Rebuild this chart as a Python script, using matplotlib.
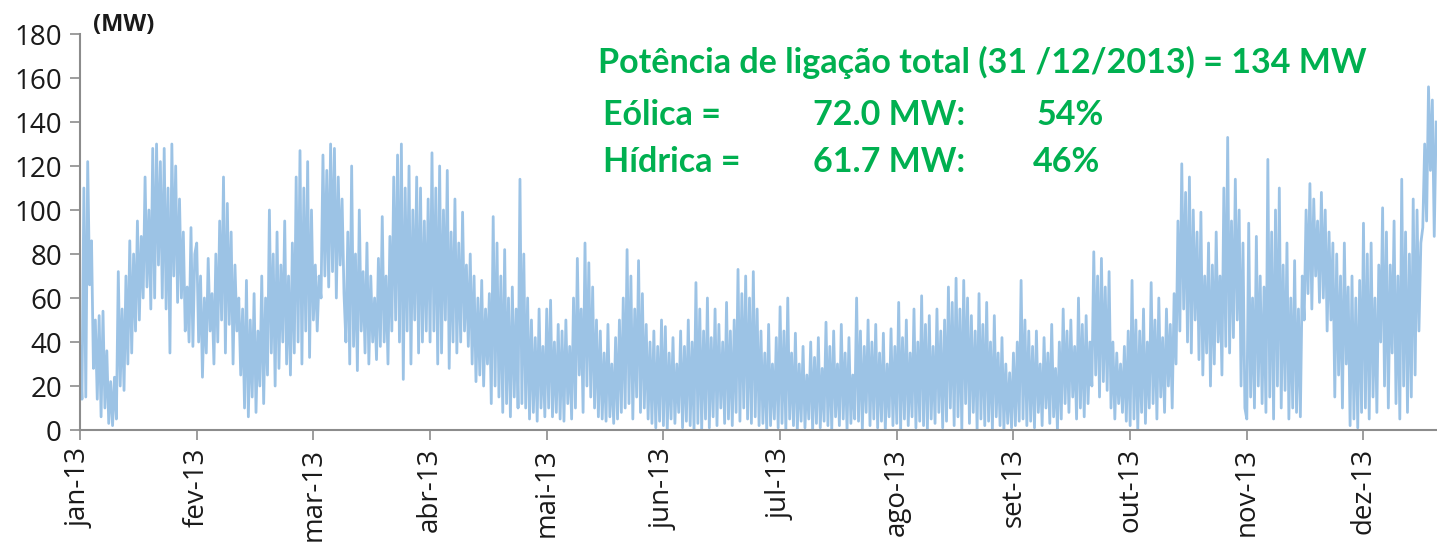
"""
Potência horária injetada (eólica + hídrica), ano 2013.
Série lida a intervalos de ~12 h, agrupada por mês (61 amostras por mês).
"""

import matplotlib
matplotlib.use("Agg")
import matplotlib.pyplot as plt
import numpy as np

# ── dados (MW) ──
jan = [38, 14, 110, 15, 122, 66, 86, 28, 50, 14, 52, 6, 54, 10, 36, 3, 22, 2, 24, 5,
       72, 20, 55, 18, 70, 30, 86, 35, 80, 45, 95, 50, 88, 60, 115, 65, 100, 55, 128, 60,
       130, 75, 122, 60, 128, 55, 110, 35, 130, 70, 120, 58, 105, 60, 90, 45, 65, 40, 92, 38,
       80]
fev = [85, 40, 70, 24, 60, 35, 78, 45, 62, 30, 80, 40, 95, 50, 115, 35, 103, 48, 90, 30,
       75, 45, 60, 25, 55, 10, 68, 6, 50, 15, 62, 8, 45, 20, 70, 12, 60, 25, 100, 35,
       80, 20, 90, 28, 75, 40, 95, 30, 70, 25, 85, 35, 115, 40, 127, 30, 110, 45, 122, 33,
       100]
mar = [50, 75, 45, 70, 60, 125, 70, 118, 65, 130, 72, 128, 60, 115, 75, 105, 62, 40, 90, 30,
       120, 38, 80, 27, 100, 45, 72, 35, 85, 30, 70, 40, 60, 32, 78, 38, 97, 40, 70, 30,
       88, 45, 115, 50, 125, 40, 130, 23, 110, 45, 120, 30, 100, 50, 115, 35, 110, 40, 95, 45,
       105]
abr = [40, 126, 45, 110, 30, 120, 35, 100, 50, 118, 28, 90, 40, 105, 35, 85, 40, 99, 45, 75,
       38, 80, 30, 70, 22, 60, 25, 68, 20, 55, 30, 62, 12, 97, 20, 85, 15, 70, 8, 82,
       12, 60, 6, 65, 15, 55, 10, 114, 12, 80, 10, 60, 5, 50, 8, 42, 4, 55, 10, 38,
       6]
mai = [55, 10, 59, 6, 40, 8, 48, 5, 45, 4, 50, 12, 38, 5, 60, 10, 78, 25, 55, 8,
       85, 20, 76, 15, 65, 10, 50, 6, 45, 5, 35, 4, 48, 6, 30, 3, 42, 5, 50, 8,
       60, 10, 82, 12, 70, 5, 55, 15, 77, 8, 62, 10, 48, 5, 40, 3, 45, 1, 38, 4,
       50]
jun = [2, 47, 0, 35, 5, 42, 3, 30, 8, 45, 1, 38, 4, 50, 2, 40, 0, 67, 3, 55,
       0, 45, 5, 60, 1, 42, 6, 55, 2, 48, 10, 40, 3, 58, 5, 45, 2, 50, 8, 73,
       4, 62, 10, 70, 5, 60, 3, 72, 6, 55, 2, 45, 3, 35, 0, 48, 2, 30, 5, 42,
       1]
jul = [56, 3, 45, 0, 60, 5, 35, 2, 44, 0, 30, 4, 38, 1, 25, 5, 40, 0, 33, 3,
       42, 1, 28, 4, 49, 2, 38, 0, 45, 6, 30, 2, 48, 5, 35, 0, 42, 3, 25, 5,
       60, 4, 45, 0, 38, 8, 50, 2, 40, 5, 48, 1, 35, 4, 44, 0, 30, 6, 46, 2,
       38]
ago = [3, 58, 0, 42, 5, 50, 2, 35, 6, 55, 1, 40, 4, 61, 2, 48, 0, 52, 5, 38,
       3, 55, 8, 45, 1, 50, 4, 65, 10, 58, 2, 69, 6, 55, 0, 68, 12, 60, 3, 52,
       8, 45, 0, 62, 5, 48, 2, 58, 4, 40, 0, 52, 6, 35, 2, 42, 0, 30, 3, 26,
       1]
set_ = [35, 2, 40, 4, 68, 5, 50, 2, 45, 4, 38, 1, 45, 8, 30, 2, 42, 10, 35, 3,
        48, 6, 28, 0, 40, 5, 55, 12, 45, 8, 50, 15, 38, 5, 60, 10, 48, 6, 52, 12,
        40, 20, 81, 25, 70, 15, 78, 22, 65, 18, 72, 10, 40, 5, 35, 12, 30, 8, 38, 4,
        45]
out = [2, 68, 5, 50, 0, 45, 8, 55, 3, 40, 10, 67, 12, 50, 5, 60, 15, 42, 8, 55,
       20, 48, 10, 62, 30, 95, 45, 121, 55, 108, 40, 115, 35, 100, 50, 90, 32, 99, 25, 70,
       35, 85, 20, 75, 30, 90, 40, 70, 25, 110, 38, 133, 35, 95, 42, 114, 50, 100, 20, 85,
       10]
nov = [5, 94, 15, 60, 10, 88, 20, 70, 12, 65, 8, 123, 15, 90, 5, 100, 20, 110, 10, 75,
       18, 85, 5, 60, 10, 77, 8, 55, 6, 70, 50, 100, 62, 112, 55, 105, 70, 95, 58, 108,
       60, 100, 45, 90, 50, 85, 15, 80, 25, 70, 10, 85, 30, 65, 2, 70, 5, 60, 1, 68,
       8]
dez = [94, 10, 80, 5, 85, 15, 60, 8, 75, 40, 101, 20, 90, 10, 75, 35, 95, 12, 70, 5,
       114, 20, 90, 8, 80, 15, 105, 25, 100, 45, 85, 92, 130, 95, 156, 118, 150, 88, 140]

meses = ["jan-13", "fev-13", "mar-13", "abr-13", "mai-13", "jun-13",
         "jul-13", "ago-13", "set-13", "out-13", "nov-13", "dez-13"]

eolica_mw, eolica_pct = 72.0, 54
hidrica_mw, hidrica_pct = 61.7, 46
total_mw = 134

VERDE = "#00B050"
AZUL = "#5B9BD5"
CINZA = "#8C8C8C"
HORAS_MES = 730
AMOSTRAS_MES = 61


def main():
    plt.rcParams["font.family"] = ["Open Sans", "DejaVu Sans"]

    mw = np.array(jan + fev + mar + abr + mai + jun + jul + ago + set_ + out + nov + dez,
                  dtype=float)
    horas = np.arange(len(mw)) * HORAS_MES / AMOSTRAS_MES

    fig = plt.figure(figsize=(14.37, 5.45), dpi=100)
    ax = fig.add_axes([0.0557, 0.211, 0.9443, 0.7266])

    ax.plot(horas, mw, color=AZUL, alpha=0.6, linewidth=2.0)

    ax.set_ylim(0, 180)
    ax.set_yticks(range(0, 181, 20))
    ax.set_xlim(0, 8490)
    ax.set_xticks(np.arange(len(meses)) * HORAS_MES)
    ax.set_xticklabels(meses, rotation=90, ha="center", va="top")

    ax.tick_params(axis="both", labelsize=20, colors=CINZA, labelcolor="#1a1a1a",
                   width=1.2, length=7, direction="out")
    ax.tick_params(axis="x", pad=6)
    ax.tick_params(axis="y", pad=6)
    for s in ["top", "right"]:
        ax.spines[s].set_visible(False)
    for s in ["left", "bottom"]:
        ax.spines[s].set_color(CINZA)
        ax.spines[s].set_linewidth(1.5)

    # unidade por cima do eixo y
    fig.text(0.065, 0.955, "(MW)", fontsize=17, fontweight="bold", color="#1a1a1a",
             ha="left", va="center")

    # caixa de potências instaladas
    fam = ["Lato", "DejaVu Sans"]
    kw = dict(fontsize=24.5, fontweight="bold", color=VERDE, family=fam, va="center")
    fig.text(0.416, 0.886,
             f"Potência de ligação total (31 /12/2013) = {total_mw} MW", ha="left", **kw)
    fig.text(0.4195, 0.789, "Eólica =", ha="left", **kw)
    fig.text(0.5655, 0.789, f"{eolica_mw:.1f} MW:", ha="left", **kw)
    fig.text(0.7215, 0.789, f"{eolica_pct}%", ha="left", **kw)
    fig.text(0.4195, 0.703, "Hídrica =", ha="left", **kw)
    fig.text(0.5655, 0.703, f"{hidrica_mw:.1f} MW:", ha="left", **kw)
    fig.text(0.719, 0.703, f"{hidrica_pct}%", ha="left", **kw)

    fig.savefig("out.png", dpi=100)
    plt.close(fig)


if __name__ == "__main__":
    main()
